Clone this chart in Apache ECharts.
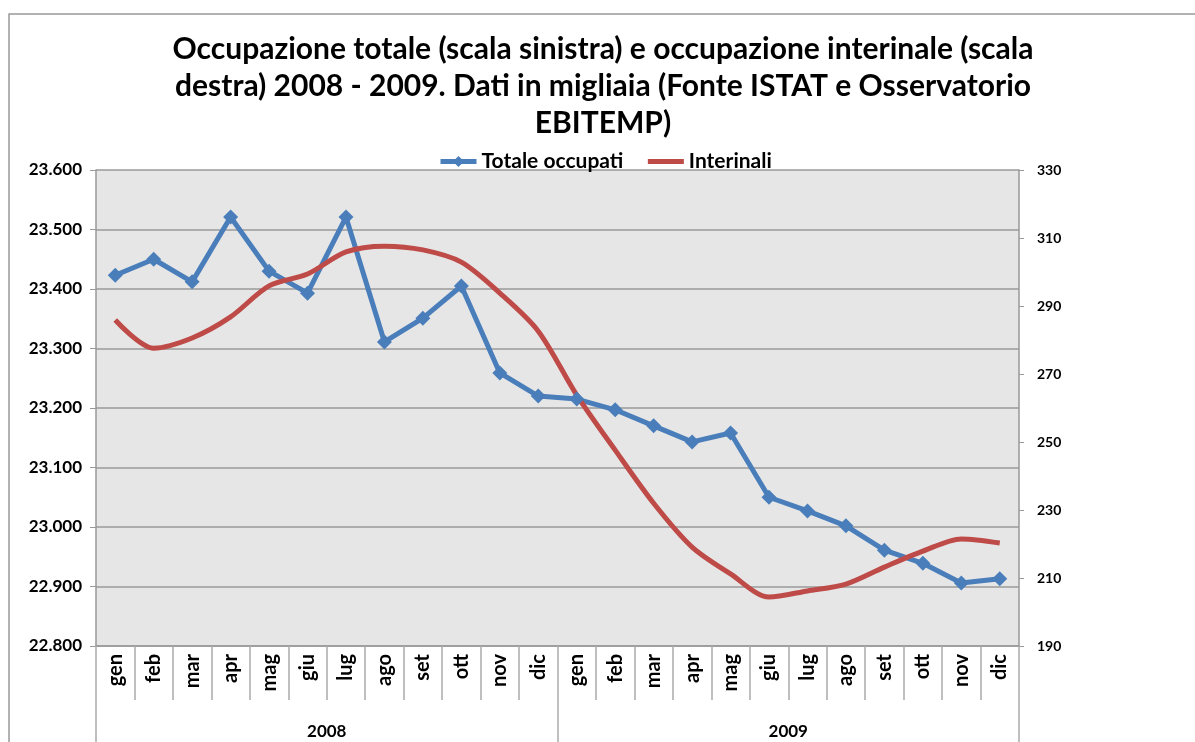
<!DOCTYPE html>
<html><head><meta charset="utf-8">
<script src="https://cdn.jsdelivr.net/npm/echarts@6/dist/echarts.min.js"></script>
<style>html,body{margin:0;padding:0;background:#fff}#c{width:1195px;height:742px}</style>
</head><body><div id="c"></div>
<script>
const months = ['gen','feb','mar','apr','mag','giu','lug','ago','set','ott','nov','dic',
                'gen','feb','mar','apr','mag','giu','lug','ago','set','ott','nov','dic'];
const years = ['2008','2009'];
const totaleOccupati = [23423,23450,23412,23521,23430,23393,23521,23311,23351,23405,23259,23220,
                        23215,23197,23170,23143,23158,23050,23027,23002,22961,22939,22906,22913];
const interinali = [285.9,277.6,280.6,286.8,295.9,299.4,305.9,307.6,306.5,302.9,293.8,282.6,
                    263.8,247.6,232.0,219.1,211.2,204.4,206.2,208.2,213.2,217.9,221.5,220.3];
const titleText = 'Occupazione totale (scala sinistra) e occupazione interinale (scala\ndestra) 2008 - 2009. Dati in migliaia (Fonte ISTAT e Osservatorio\nEBITEMP)';

const FONT = 'Lato, "Liberation Sans", sans-serif';
const chart = echarts.init(document.getElementById('c'));
function fmtIt(v){ const t=Math.floor(v/1000), r=Math.round(v%1000); return t+'.'+String(r).padStart(3,'0'); }
chart.setOption({
  backgroundColor:'#fff',
  animation:false,
  graphic:[{type:'rect',shape:{x:9,y:14,width:1300,height:800},style:{fill:'none',stroke:'#999',lineWidth:1.5},silent:true,z:-1}],
  title:{text:titleText,left:598,textAlign:'center',top:26,
    textStyle:{fontFamily:FONT,fontWeight:'bold',fontSize:30,lineHeight:37,color:'#000'}},
  legend:{top:146,left:433,itemWidth:36,itemHeight:14,itemGap:22,
    textStyle:{fontFamily:FONT,fontWeight:'bold',fontSize:21,color:'#000'},
    data:[
      {name:'Totale occupati',lineStyle:{width:5}},
      {name:'Interinali',lineStyle:{width:5},itemStyle:{color:'rgba(0,0,0,0)',opacity:0,borderWidth:0}}
    ]},
  grid:{left:96,right:176,top:170,bottom:96,show:true,backgroundColor:'#e6e6e6',borderWidth:0},
  xAxis:[
    {type:'category',data:months,boundaryGap:true,
     axisLine:{show:true,lineStyle:{color:'#999',width:1.5}},
     axisTick:{show:true,interval:0,length:54,lineStyle:{color:'#aaa',width:1.5}},
     axisLabel:{interval:0,rotate:90,margin:8,fontFamily:FONT,fontWeight:'bold',fontSize:20,color:'#000'}},
    {type:'category',data:years,position:'bottom',boundaryGap:true,
     axisLine:{show:false},
     axisTick:{show:true,interval:0,length:96,lineStyle:{color:'#aaa',width:1.5}},
     axisLabel:{margin:77,fontFamily:FONT,fontWeight:'bold',fontSize:17,color:'#000'}}
  ],
  yAxis:[
    {type:'value',min:22800,max:23600,interval:100,position:'left',
     axisLine:{show:true,lineStyle:{color:'#999',width:1.5}},
     axisTick:{show:true,length:6,lineStyle:{color:'#999'}},
     splitLine:{show:true,lineStyle:{color:'#9a9a9a',width:1.5}},
     axisLabel:{margin:14,formatter:fmtIt,fontFamily:FONT,fontWeight:'bold',fontSize:17,color:'#000'}},
    {type:'value',min:190,max:330,interval:20,position:'right',
     axisLine:{show:true,lineStyle:{color:'#999',width:1.5}},
     axisTick:{show:true,length:5,lineStyle:{color:'#999'}},
     splitLine:{show:false},
     axisLabel:{margin:18,fontFamily:FONT,fontWeight:'bold',fontSize:14,color:'#000'}}
  ],
  series:[
    {name:'Totale occupati',type:'line',xAxisIndex:0,yAxisIndex:0,data:totaleOccupati,
     symbol:'diamond',symbolSize:15,color:'#4a7ebb',
     lineStyle:{width:5,color:'#4a7ebb'},itemStyle:{color:'#4a7ebb'}},
    {name:'Interinali',type:'line',xAxisIndex:0,yAxisIndex:1,data:interinali,
     symbol:'none',smooth:0.3,color:'#be4b48',
     lineStyle:{width:5,color:'#be4b48'},itemStyle:{color:'#be4b48'}}
  ]
});
</script></body></html>
